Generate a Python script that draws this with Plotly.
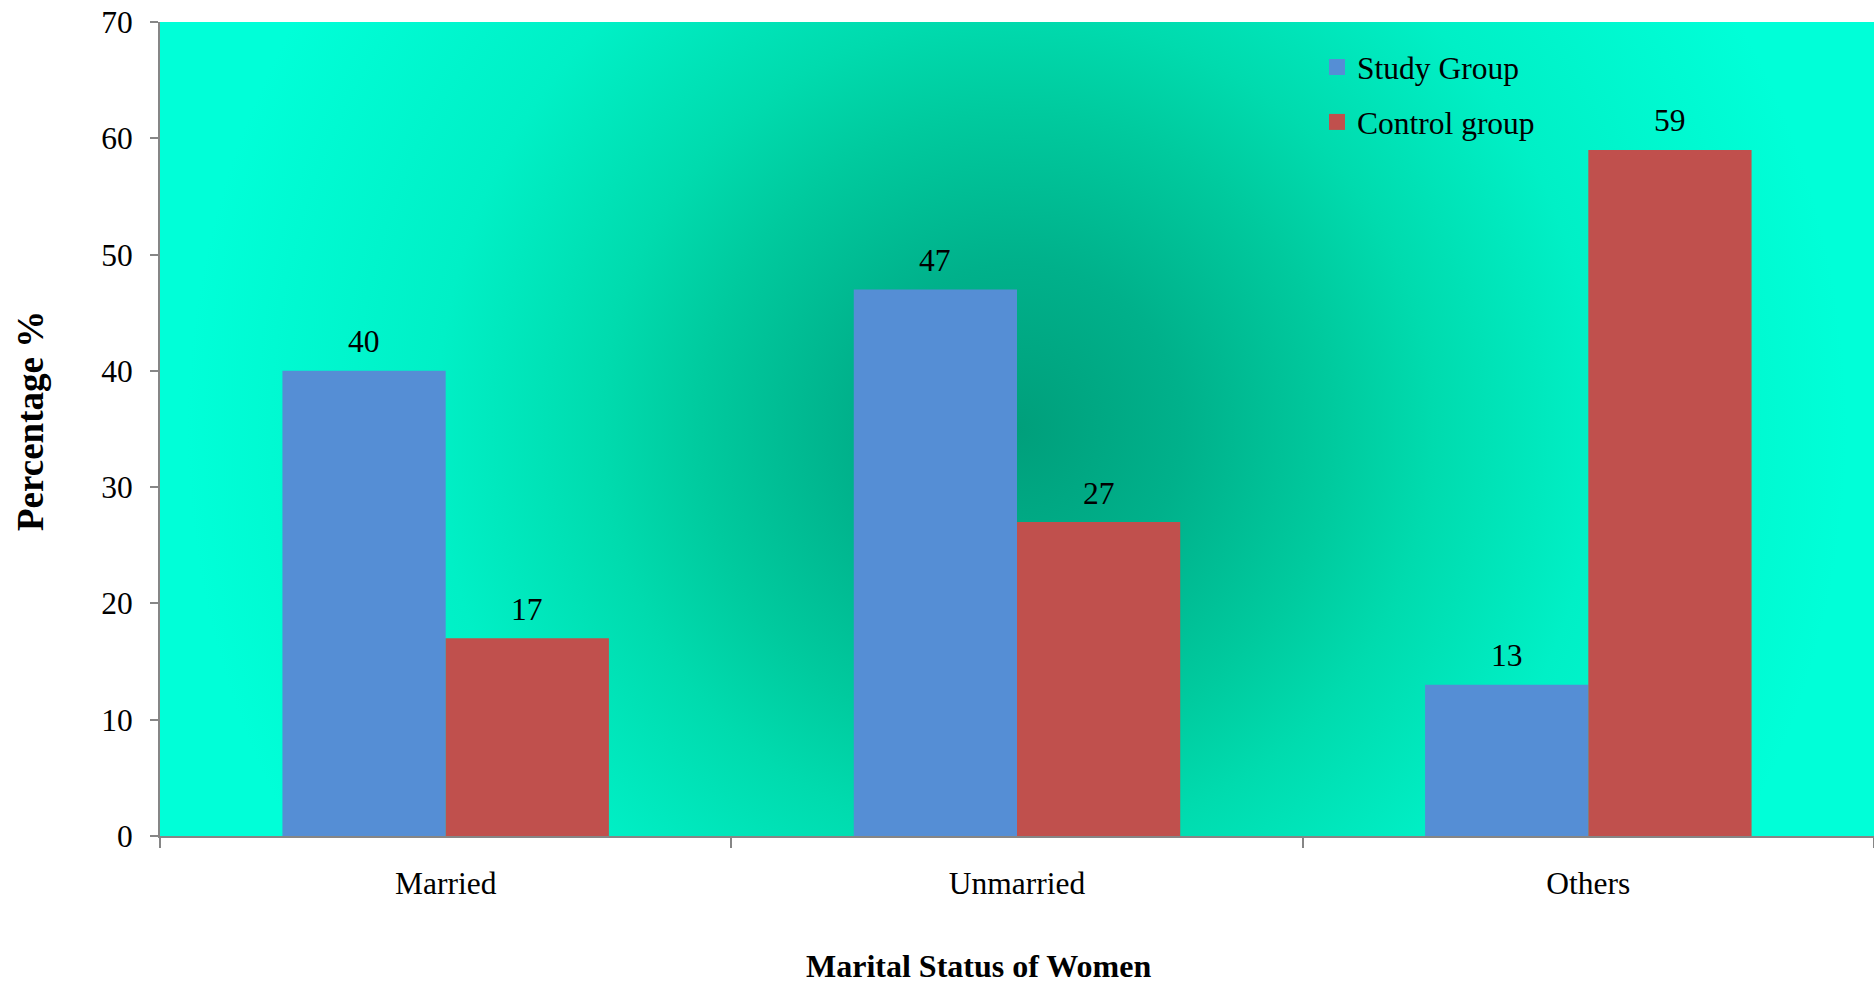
import base64
import plotly.graph_objects as go

# Marital status of women: percentage in each group
categories = ["Married", "Unmarried", "Others"]
study_group = [40, 47, 13]
control_group = [17, 27, 59]
series_names = ["Study Group", "Control group"]
y_ticks = [0, 10, 20, 30, 40, 50, 60, 70]

W, H = 1874, 984
M_L, M_R, M_T, M_B = 160, 0, 22, 148
PW, PH = W - M_L - M_R, H - M_T - M_B

FONT = "Liberation Serif, Times New Roman, serif"
BLUE = "#558ed5"
RED = "#c0504d"
AXIS_GREY = "#868686"

# radial teal fill for the plotting area
svg = f"""<svg xmlns='http://www.w3.org/2000/svg' width='{PW}' height='{PH}' viewBox='0 0 {PW} {PH}' preserveAspectRatio='none'>
<defs><radialGradient id='g' gradientUnits='userSpaceOnUse' cx='{PW/2}' cy='{PH/2}' r='830'>
<stop offset='0' stop-color='#009f7b'/>
<stop offset='0.2' stop-color='#00b18b'/>
<stop offset='0.38' stop-color='#00ca9e'/>
<stop offset='0.5' stop-color='#00dbae'/>
<stop offset='0.7' stop-color='#00f0c6'/>
<stop offset='1' stop-color='#00ffd8'/>
</radialGradient></defs>
<rect x='0' y='0' width='{PW}' height='{PH}' fill='url(#g)'/></svg>"""
bg_uri = "data:image/svg+xml;base64," + base64.b64encode(svg.encode()).decode()

bargap = 1 - 1 / 1.75
bar_w = (1 - bargap) / 2
colors = [BLUE, RED]

fig = go.Figure()
for name, vals, col in zip(series_names, (study_group, control_group), colors):
    fig.add_trace(go.Bar(x=categories, y=vals, name=name,
                         marker=dict(color=col, line=dict(width=0)),
                         legendgroup=name, showlegend=False))
# legend keys with larger square swatches
for name, col in zip(series_names, colors):
    fig.add_trace(go.Scatter(x=[None], y=[None], name=name, mode="markers",
                             marker=dict(symbol="square", size=17, color=col,
                                         line=dict(width=0)),
                             legendgroup=name, hoverinfo="skip"))

annotations = []
for i, (s, c) in enumerate(zip(study_group, control_group)):
    for off, v in ((-bar_w / 2, s), (bar_w / 2, c)):
        annotations.append(dict(x=i + off, y=v, xref="x", yref="y", text=str(v),
                                showarrow=False, yanchor="middle", yshift=29,
                                font=dict(family=FONT, size=31.5, color="black")))

annotations.append(dict(text="<b>Marital Status of Women</b>", xref="paper", yref="paper",
                        x=(978 - M_L) / PW, y=(H - M_B - 966) / PH,
                        xanchor="center", yanchor="middle", showarrow=False,
                        font=dict(family=FONT, size=32, color="black")))
annotations.append(dict(text="<b>Percentage %</b>", xref="paper", yref="paper",
                        x=(30 - M_L) / PW, y=(H - M_B - 421) / PH, textangle=-90,
                        xanchor="center", yanchor="middle", showarrow=False,
                        font=dict(family=FONT, size=37, color="black")))

fig.update_layout(
    width=W, height=H,
    margin=dict(l=M_L, r=M_R, t=M_T, b=M_B, pad=0),
    paper_bgcolor="white",
    plot_bgcolor="rgba(0,0,0,0)",
    barmode="group", bargap=bargap, bargroupgap=0,
    showlegend=True,
    legend=dict(x=(1317 - M_L) / PW, y=(H - M_B - 40) / PH,
                xanchor="left", yanchor="top",
                bgcolor="rgba(0,0,0,0)", borderwidth=0, itemsizing="trace",
                font=dict(family=FONT, size=31.5, color="black"),
                tracegroupgap=11, traceorder="grouped"),
    images=[dict(source=bg_uri, xref="paper", yref="paper", x=0, y=1,
                 sizex=1, sizey=1, xanchor="left", yanchor="top",
                 sizing="stretch", layer="below")],
    annotations=annotations,
    xaxis=dict(type="category", range=[-0.5, 2.5], showgrid=False, zeroline=False,
               showline=True, linecolor=AXIS_GREY, linewidth=2,
               ticks="outside", ticklen=10, tickcolor=AXIS_GREY, tickwidth=2,
               tickson="boundaries", ticklabelstandoff=18,
               tickfont=dict(family=FONT, size=31.5, color="black")),
    yaxis=dict(range=[0, 70], tickvals=y_ticks, showgrid=False, zeroline=False,
               showline=True, linecolor=AXIS_GREY, linewidth=2,
               ticks="outside", ticklen=8, tickcolor=AXIS_GREY, tickwidth=2,
               ticklabelstandoff=11,
               tickfont=dict(family=FONT, size=31.5, color="black")),
)

fig.write_html("out.html")
